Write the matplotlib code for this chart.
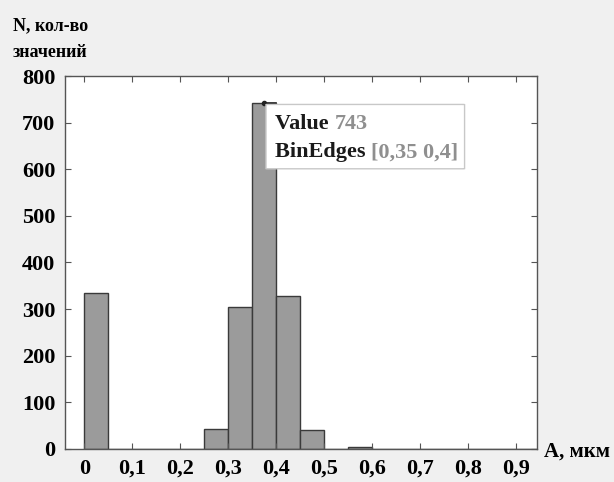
import matplotlib
matplotlib.use("Agg")
import matplotlib.pyplot as plt
from matplotlib.patches import FancyBboxPatch
import numpy as np

plt.rcParams['font.family'] = ['Liberation Serif', 'DejaVu Serif']
plt.rcParams['font.weight'] = 'bold'

# гистограмма: левые границы бинов и количество значений
bin_left = [0.00, 0.05, 0.10, 0.15, 0.20, 0.25, 0.30, 0.35, 0.40, 0.45,
            0.50, 0.55, 0.60, 0.65, 0.70, 0.75, 0.80, 0.85, 0.90]
counts = [335, 0, 0, 0, 0, 43, 304, 743, 329, 40,
          0, 4, 0, 0, 0, 0, 0, 0, 0]
bin_width = 0.05

x_ticks = [0, 0.1, 0.2, 0.3, 0.4, 0.5, 0.6, 0.7, 0.8, 0.9]
x_labels = ['0', '0,1', '0,2', '0,3', '0,4', '0,5', '0,6', '0,7', '0,8', '0,9']
y_ticks = [0, 100, 200, 300, 400, 500, 600, 700, 800]

tip_value = '743'
tip_edges = '[0,35 0,4]'

fig = plt.figure(figsize=(6.14, 4.82), dpi=100, facecolor='#f0f0f0')
ax = fig.add_axes([0.1059, 0.0685, 0.7687, 0.7738])
ax.set_facecolor('white')

ax.bar(bin_left, counts, width=bin_width, align='edge',
       color='#9b9b9b', edgecolor='#3a3a3a', linewidth=1.0)

ax.set_xlim(-0.04, 0.944)
ax.set_ylim(0, 800)
ax.set_xticks(x_ticks)
ax.set_xticklabels(x_labels)
ax.set_yticks(y_ticks)
ax.tick_params(direction='in', top=True, right=True, length=4,
               color='#555555', labelsize=16, pad=7)
for sp in ax.spines.values():
    sp.set_color('#555555')
    sp.set_linewidth(1.0)

# подписи осей
fig.text(13 / 614, 1 - 30 / 482, 'N, кол-во', fontsize=13, ha='left', va='baseline')
fig.text(13 / 614, 1 - 57 / 482, 'значений', fontsize=13, ha='left', va='baseline')
fig.text(544 / 614, 1 - 457 / 482, 'A, мкм', fontsize=15, ha='left', va='baseline')

# подсказка (datatip)
i_peak = int(np.argmax(counts))
px = bin_left[i_peak] + bin_width / 2
py = counts[i_peak]
ax.plot([px], [py], 'o', color='#222222', markersize=3, zorder=5)
ax.plot([px, bin_left[i_peak] + bin_width], [py, py], color='#222222', lw=1.2, zorder=5)

box = FancyBboxPatch((0.379, 601), 0.414, 138,
                     boxstyle='round,pad=0,rounding_size=0.004',
                     facecolor='white', edgecolor='#c8c8c8', linewidth=1.0,
                     zorder=6, mutation_aspect=100)
ax.add_patch(box)

t1 = ax.text(0.398, 686, 'Value ', fontsize=16, color='#1a1a1a', zorder=7,
             va='baseline')
ax.annotate(tip_value, xy=(1, 0), xycoords=t1, va='bottom', ha='left',
            fontsize=16, color='#8f8f8f', zorder=7)
t2 = ax.text(0.398, 626, 'BinEdges ', fontsize=16, color='#1a1a1a', zorder=7,
             va='baseline')
ax.annotate(tip_edges, xy=(1, 0), xycoords=t2, va='bottom', ha='left',
            fontsize=16, color='#8f8f8f', zorder=7)

fig.savefig('out.png', dpi=100, facecolor=fig.get_facecolor())
